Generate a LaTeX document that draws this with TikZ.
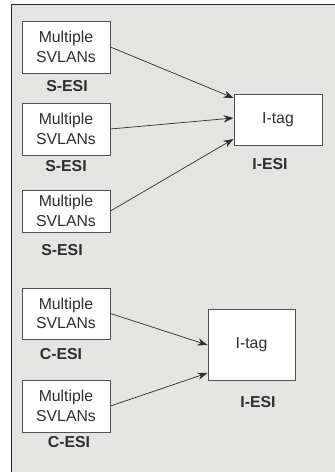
\documentclass[tikz,border=0pt]{standalone}
\usepackage{fontspec}
\setmainfont{Liberation Sans}
\usetikzlibrary{arrows.meta,calc}
\definecolor{panel}{HTML}{E4E4E2}
\definecolor{edge}{HTML}{505050}
\definecolor{ink}{HTML}{2E2E2E}
\begin{document}
\begin{tikzpicture}[x=0.03cm,y=-0.03cm,
  every node/.style={font=\fontsize{13.5}{16.5}\selectfont,text=ink},
  vlanbox/.style={draw=edge,fill=white,line width=0.8pt,minimum width=2.64cm,align=center,inner sep=0pt},
  esi/.style={font=\fontsize{13.5}{16.5}\selectfont\bfseries},
  link/.style={draw=ink,line width=0.6pt,-{Stealth[length=3mm,width=2.2mm]}}]
  \useasboundingbox (0,0) rectangle (335,472);
  \fill[panel] (11,4) rectangle (335,472);
  \draw[line width=0.8pt,black!85] (11,472) -- (11,4) -- (335,4);
  % S-ESI and C-ESI boxes
  \foreach \n/\y/\h in {s1/47/1.56, s2/129/1.56, s3/211/1.26, c1/313.5/1.53, c2/406/1.56} {
    \node[vlanbox,minimum height=\h cm] (\n) at (66,\y) {Multiple\\SVLANs};
  }
  \node[vlanbox,minimum height=1.53cm] (i1) at (278,119.5) {I-tag};
  \node[vlanbox,minimum width=2.61cm,minimum height=2.13cm] (i2) at (251.5,344.5) {I-tag};
  % labels
  \node[esi] (s1lab) at (67,86) {S-ESI};
  \node[esi] (s2lab) at (66,166) {S-ESI};
  \node[esi] (s3lab) at (62,250) {S-ESI};
  \node[esi] (c1lab) at (61,354) {C-ESI};
  \node[esi] (c2lab) at (69,442) {C-ESI};
  \node[esi] (i1lab) at (270,164) {I-ESI};
  \node[esi] (i2lab) at (258,402) {I-ESI};
  % arrows
  \draw[link] (s1.east) -- ($(i1.west)+(0,-21.5)$);
  \draw[link] (s2.east) -- ($(i1.west)+(0,-1.5)$);
  \draw[link] (s3.east) -- ($(i1.west)+(0,19.5)$);
  \draw[link] (c1.east) -- ($(i2.west)+(0,0.5)$);
  \draw[link] (c2.east) -- ($(i2.west)+(0,28.5)$);
\end{tikzpicture}
\end{document}
